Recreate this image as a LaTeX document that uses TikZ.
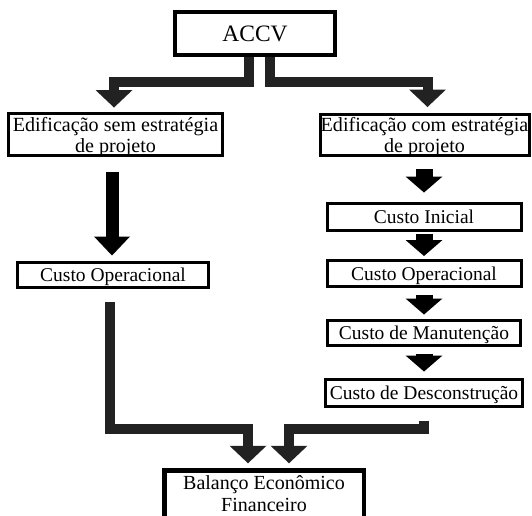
\documentclass[tikz,border=0pt]{standalone}
\usepackage{fontspec}
\setmainfont{Liberation Serif}
\usetikzlibrary{arrows.meta}
\definecolor{dk}{HTML}{222222}
\begin{document}
\begin{tikzpicture}[x=1pt,y=-1pt,
  box/.style={draw=black, line width=3pt, inner sep=0pt, font=\fontsize{19.5}{21}\selectfont, align=center},
  bigbox/.style={draw=black, line width=4.5pt, inner sep=0pt},
  txt/.style={inner sep=0pt, font=\fontsize{20.1}{20.5}\selectfont, align=center},
  onel/.style={text height=13.3pt, text depth=0pt},
  bentarr/.style={draw=dk, line width=10pt, -{Triangle[length=17.5pt,width=37pt,line width=0pt]}},
  bigarr/.style={draw=black, line width=13pt, -{Triangle[length=19pt,width=36pt,line width=0pt]}},
  smallarr/.style={draw=black, line width=17pt, -{Triangle[length=16pt,width=37pt,line width=0pt]}}
]
\fill[white] (0,0) rectangle (532,515);
\useasboundingbox (0,0) rectangle (532,515);

% boxes
\node[bigbox, minimum width=160pt, minimum height=43pt, font=\fontsize{23.5}{24}\selectfont] (accv) at (255,33.5) {ACCV};

\node[box, minimum width=214pt, minimum height=42pt] (esem) at (115.5,134.5) {};
\node[txt] (esemt) at (115.5,137) {Edificação sem estratégia\\de projeto};

\node[box, minimum width=209pt, minimum height=41pt] (ecom) at (424.5,134.5) {};
\node[txt] (ecomt) at (424.5,137) {Edificação com estratégia\\de projeto};

\node[box, onel, minimum width=191pt, minimum height=25pt] (co1) at (113,275) {Custo Operacional};
\node[box, onel, minimum width=194pt, minimum height=27pt] (ci) at (424,217) {Custo Inicial};
\node[box, onel, minimum width=194pt, minimum height=26pt] (co2) at (424,273.5) {Custo Operacional};
\node[box, onel, minimum width=193pt, minimum height=25pt] (cm) at (424,333) {Custo de Manutenção};
\node[box, onel, minimum width=197pt, minimum height=27pt] (cd) at (424,393) {Custo de Desconstrução};

\node[bigbox, minimum width=199.5pt, minimum height=80pt, anchor=north] (bal) at (264,468.25) {};
\node[txt, anchor=north, font=\fontsize{20}{22}\selectfont] (balt) at (264,475) {Balanço Econômico\\Financeiro};

% connectors
\draw[bentarr] ([xshift=-6pt]accv.south) |- (114,82) -- ([xshift=-1.5pt,yshift=4.5pt]esem.north);
\draw[bentarr] ([xshift=15pt]accv.south) |- (427.5,82) -- ([xshift=3pt,yshift=5.5pt]ecom.north);

\draw[bigarr] ([xshift=-3.5pt,yshift=-14.5pt]esem.south) -- ([xshift=-1pt,yshift=5.5pt]co1.north);

\draw[smallarr] ([xshift=-0.5pt,yshift=-12.5pt]ecom.south) -- ([yshift=9.5pt]ci.north);
\draw[smallarr] ([yshift=-1.5pt]ci.south) -- ([yshift=3pt]co2.north);
\draw[smallarr] ([yshift=-6.5pt]co2.south) -- ([yshift=4.5pt]cm.north);
\draw[smallarr] ([yshift=-6.5pt]cm.south) -- ([yshift=6.5pt]cd.north);

\draw[bentarr] ([xshift=-3pt,yshift=-13pt]co1.south) |- (248,429) -- ([xshift=-16pt,yshift=5pt]bal.north);
\draw[bentarr] ([yshift=-12.5pt]cd.south) |- (289,429) -- ([xshift=25pt,yshift=5pt]bal.north);
\end{tikzpicture}
\end{document}
